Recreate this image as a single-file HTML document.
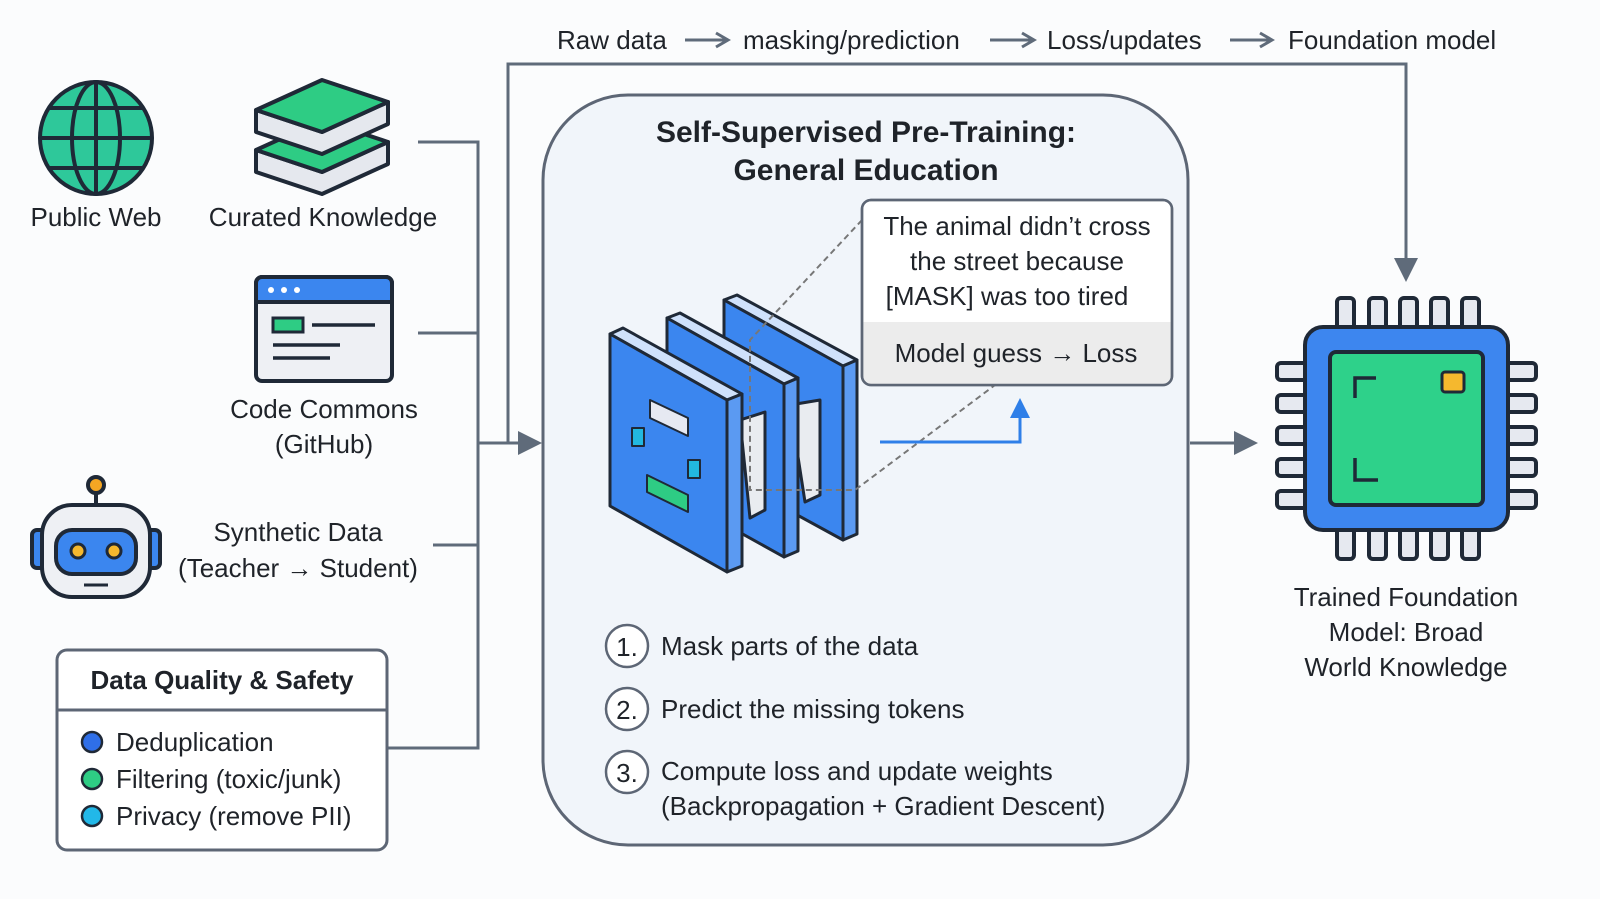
<!DOCTYPE html>
<html><head><meta charset="utf-8"><style>
html,body{margin:0;padding:0;background:#fbfcfd;}
svg{display:block}
text{font-family:"Liberation Sans",sans-serif;fill:#1f2329}
</style></head><body>
<svg width="1600" height="899" viewBox="0 0 1600 899" xmlns="http://www.w3.org/2000/svg">
<rect width="1600" height="899" fill="#fbfcfd"/>
<!-- header -->
<g font-size="26">
<text x="557" y="49">Raw data</text>
<text x="743" y="49">masking/prediction</text>
<text x="1047" y="49">Loss/updates</text>
<text x="1288" y="49">Foundation model</text>
</g>
<g stroke="#5f6b7a" stroke-width="3" fill="none">
<path d="M685 40 H726"/><path d="M716 33 L728 40 L716 47"/>
<path d="M990 40 H1032"/><path d="M1022 33 L1034 40 L1022 47"/>
<path d="M1230 40 H1270"/><path d="M1260 33 L1272 40 L1260 47"/>
</g>
<!-- connectors -->
<g stroke="#5f6b7a" stroke-width="3" fill="none">
<path d="M418 142 H478 V748 H388"/>
<path d="M418 333 H478"/>
<path d="M433 545 H478"/>
<path d="M478 443 H522"/>
<path d="M508 443 V64 H1406 V262"/>
<path d="M1190 443 H1238"/>
</g>
<path d="M518 431 L542 443 L518 455 z" fill="#5f6b7a"/>
<path d="M1394 258 L1406 282 L1418 258 z" fill="#5f6b7a"/>
<path d="M1234 431 L1258 443 L1234 455 z" fill="#5f6b7a"/>
<!-- main box -->
<rect x="543" y="95" width="645" height="750" rx="85" fill="#f1f5fa" stroke="#5d6675" stroke-width="3"/>
<text x="866" y="142" font-size="30" font-weight="bold" text-anchor="middle">Self-Supervised Pre-Training:</text>
<text x="866" y="180" font-size="30" font-weight="bold" text-anchor="middle">General Education</text>
<!-- layers -->
<g stroke="#1f2937" stroke-width="3" stroke-linejoin="round">
<path d="M724 300 L737 295 L857 360 L843 366 z" fill="#cfe1fb"/>
<path d="M724 300 L843 366 L843 540 L724 475 z" fill="#3b86ef"/>
<path d="M843 366 L857 360 L857 534 L843 540 z" fill="#5b9af2"/>
<path d="M790 405 L820 400 L820 495 L805 502 z" fill="#e9ecf0"/>
<path d="M667 318 L680 313 L798 378 L784 384 z" fill="#cfe1fb"/>
<path d="M667 318 L784 384 L784 557 L667 492 z" fill="#3b86ef"/>
<path d="M784 384 L798 378 L798 551 L784 557 z" fill="#5b9af2"/>
<path d="M740 420 L765 412 L765 510 L750 518 z" fill="#e9ecf0"/>
<path d="M610 334 L623 328 L742 394 L727 400 z" fill="#cfe1fb"/>
<path d="M610 334 L727 400 L727 572 L610 506 z" fill="#3b86ef"/>
<path d="M727 400 L742 394 L742 566 L727 572 z" fill="#5b9af2"/>
<path d="M650 400 L688 418 L688 436 L650 418 z" fill="#e6e9f2" stroke-width="2"/>
<path d="M647 475 L688 495 L688 512 L647 492 z" fill="#2ecc84" stroke-width="2"/>
<rect x="632" y="428" width="12" height="18" fill="#22b8e0" stroke-width="2"/>
<rect x="688" y="460" width="12" height="18" fill="#22b8e0" stroke-width="2"/>
</g>
<g stroke="#777" stroke-width="2" stroke-dasharray="6 4" fill="none">
<path d="M862 220 L750 340 V490 H855 L995 385"/>
</g>
<path d="M880 442 H1020 V412" stroke="#2f7fe8" stroke-width="3" fill="none"/>
<path d="M1010 418 L1020 398 L1030 418 z" fill="#2f7fe8"/>
<!-- callout -->
<rect x="862" y="200" width="310" height="185" rx="9" fill="#fff" stroke="#5d6675" stroke-width="2.5"/>
<path d="M863.5 322 H1170.5 V376 a8 8 0 0 1 -8 8 H871.5 a8 8 0 0 1 -8 -8 z" fill="#ececec"/>
<rect x="862" y="200" width="310" height="185" rx="9" fill="none" stroke="#5d6675" stroke-width="2.5"/>
<g font-size="26" text-anchor="middle">
<text x="1017" y="235">The animal didn’t cross</text>
<text x="1017" y="270">the street because</text>
<text x="1007" y="305">[MASK] was too tired</text>
<text x="1016" y="362">Model guess → Loss</text>
</g>
<!-- steps -->
<g stroke="#5d6675" stroke-width="2.5" fill="#fff">
<circle cx="627" cy="646" r="21"/><circle cx="627" cy="709" r="21"/><circle cx="627" cy="772" r="21"/>
</g>
<g font-size="26">
<text x="627" y="656" text-anchor="middle">1.</text>
<text x="627" y="719" text-anchor="middle">2.</text>
<text x="627" y="782" text-anchor="middle">3.</text>
<text x="661" y="655">Mask parts of the data</text>
<text x="661" y="718">Predict the missing tokens</text>
<text x="661" y="780">Compute loss and update weights</text>
<text x="661" y="815">(Backpropagation + Gradient Descent)</text>
</g>
<!-- globe -->
<g stroke="#1f2937" stroke-width="4" fill="none">
<circle cx="96" cy="138" r="56" fill="#2ec89a"/>
<ellipse cx="96" cy="138" rx="24" ry="56"/>
<path d="M40 138 H152 M96 82 V194 M50 108 H142 M50 168 H142"/>
</g>
<text x="96" y="226" font-size="26" text-anchor="middle">Public Web</text>
<!-- books -->
<g stroke="#1f2937" stroke-width="4" stroke-linejoin="round">
<path d="M256 150 L256 172 L322 194 L388 164 L388 142 L322 172 z" fill="#e5e8ee"/>
<path d="M256 150 L322 120 L388 142 L322 172 z" fill="#2ecc84"/>
<path d="M256 110 L256 132 L322 154 L388 124 L388 102 L322 132 z" fill="#e5e8ee"/>
<path d="M256 110 L322 80 L388 102 L322 132 z" fill="#2ecc84"/>
</g>
<text x="323" y="226" font-size="26" text-anchor="middle">Curated Knowledge</text>
<!-- browser -->
<g stroke="#1f2937" stroke-width="4">
<rect x="256" y="277" width="136" height="104" rx="6" fill="#eef0f4"/>
<path d="M256 302 V283 a6 6 0 0 1 6 -6 H386 a6 6 0 0 1 6 6 V302 z" fill="#3b86ef"/>
<rect x="273" y="318" width="30" height="14" fill="#2ecc84" stroke-width="3"/>
<path d="M312 325 H375 M273 345 H340 M273 358 H330" stroke-width="3.5"/>
</g>
<g fill="#fff"><circle cx="271" cy="290" r="3"/><circle cx="284" cy="290" r="3"/><circle cx="297" cy="290" r="3"/></g>
<text x="324" y="418" font-size="26" text-anchor="middle">Code Commons</text>
<text x="324" y="453" font-size="26" text-anchor="middle">(GitHub)</text>
<!-- robot -->
<g stroke="#1f2937" stroke-width="4">
<path d="M96 492 V505" />
<circle cx="96" cy="485" r="8" fill="#f5a623"/>
<rect x="32" y="530" width="14" height="38" rx="5" fill="#3b86ef"/>
<rect x="146" y="530" width="14" height="38" rx="5" fill="#3b86ef"/>
<rect x="42" y="505" width="108" height="92" rx="30" fill="#eef0f4"/>
<rect x="56" y="530" width="80" height="44" rx="16" fill="#3b86ef"/>
<circle cx="78" cy="551" r="7" fill="#f5b82e" stroke-width="3"/>
<circle cx="114" cy="551" r="7" fill="#f5b82e" stroke-width="3"/>
<path d="M84 585 H108" stroke-width="3"/>
</g>
<text x="298" y="541" font-size="26" text-anchor="middle">Synthetic Data</text>
<text x="298" y="577" font-size="26" text-anchor="middle">(Teacher → Student)</text>
<!-- quality box -->
<rect x="57" y="650" width="330" height="200" rx="10" fill="#fff" stroke="#5d6675" stroke-width="3"/>
<path d="M57 710 H387" stroke="#5d6675" stroke-width="3"/>
<text x="222" y="689" font-size="26" font-weight="bold" text-anchor="middle">Data Quality &amp; Safety</text>
<g stroke="#1f2937" stroke-width="2.5">
<circle cx="92" cy="742" r="10" fill="#2f6fe8"/>
<circle cx="92" cy="779" r="10" fill="#2ecc84"/>
<circle cx="92" cy="816" r="10" fill="#22b8e8"/>
</g>
<g font-size="26">
<text x="116" y="751">Deduplication</text>
<text x="116" y="788">Filtering (toxic/junk)</text>
<text x="116" y="825">Privacy (remove PII)</text>
</g>
<!-- chip -->
<g stroke="#1f2937" stroke-width="4" fill="#e6e9f0">
<rect x="1337" y="298" width="17" height="34" rx="4"/><rect x="1369" y="298" width="17" height="34" rx="4"/><rect x="1400" y="298" width="17" height="34" rx="4"/><rect x="1431" y="298" width="17" height="34" rx="4"/><rect x="1462" y="298" width="17" height="34" rx="4"/>
<rect x="1337" y="525" width="17" height="34" rx="4"/><rect x="1369" y="525" width="17" height="34" rx="4"/><rect x="1400" y="525" width="17" height="34" rx="4"/><rect x="1431" y="525" width="17" height="34" rx="4"/><rect x="1462" y="525" width="17" height="34" rx="4"/>
<rect x="1277" y="363" width="34" height="17" rx="4"/><rect x="1277" y="395" width="34" height="17" rx="4"/><rect x="1277" y="427" width="34" height="17" rx="4"/><rect x="1277" y="459" width="34" height="17" rx="4"/><rect x="1277" y="491" width="34" height="17" rx="4"/>
<rect x="1502" y="363" width="34" height="17" rx="4"/><rect x="1502" y="395" width="34" height="17" rx="4"/><rect x="1502" y="427" width="34" height="17" rx="4"/><rect x="1502" y="459" width="34" height="17" rx="4"/><rect x="1502" y="491" width="34" height="17" rx="4"/>
<rect x="1305" y="327" width="203" height="203" rx="18" fill="#3d86ef"/>
<rect x="1330" y="352" width="153" height="153" rx="6" fill="#2ed18a"/>
<rect x="1442" y="372" width="22" height="20" rx="3" fill="#f5b82e" stroke-width="3"/>
<path d="M1376 378 H1355 V398 M1355 458 V480 H1378" fill="none" stroke-width="3.5"/>
</g>
<g font-size="26" text-anchor="middle">
<text x="1406" y="606">Trained Foundation</text>
<text x="1406" y="641">Model: Broad</text>
<text x="1406" y="676">World Knowledge</text>
</g>
</svg>
</body></html>
